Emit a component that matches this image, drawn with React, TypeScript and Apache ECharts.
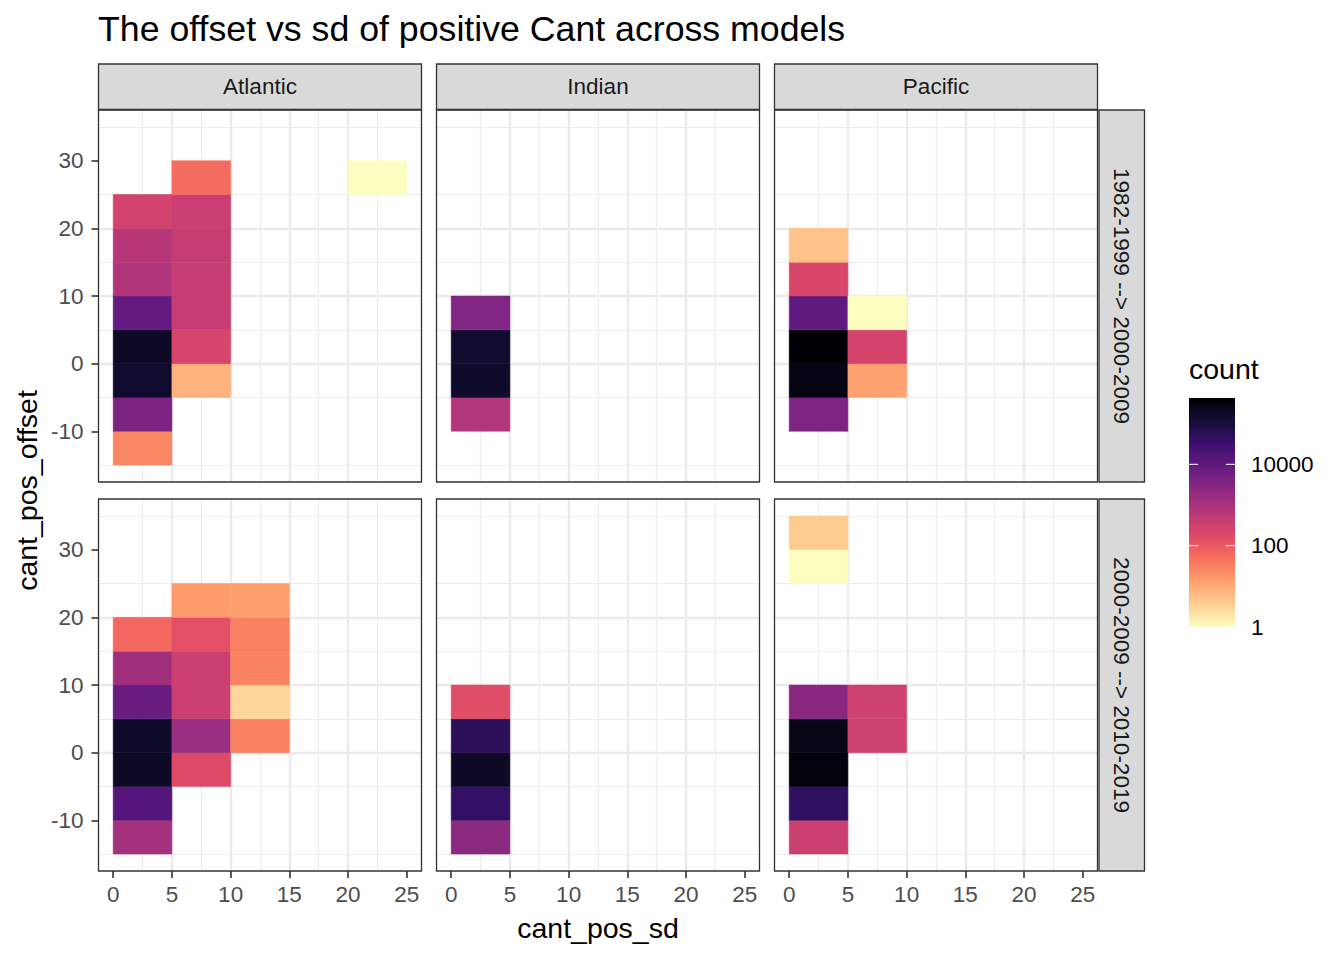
import React, { useEffect, useRef } from "react";
import * as echarts from "echarts";

// ---------- data ----------
const regions = ["Atlantic", "Indian", "Pacific"];
const periods = ["1982-1999 --> 2000-2009", "2000-2009 --> 2010-2019"];
const xTickValues = [0, 5, 10, 15, 20, 25];
const yTickValues = [-10, 0, 10, 20, 30];
const legendBreaks = [1, 100, 10000];
const binWidth = 5;
const xLimits = [-1.25, 26.25];
const yLimits = [-17.5, 37.5];

// [cant_pos_sd bin start, cant_pos_offset bin start, count]
const atlanticP1 = [
  [0, -15, 26], [0, -10, 4000], [0, -5, 140000], [0, 0, 185000], [0, 5, 8700],
  [0, 10, 800], [0, 15, 650], [0, 20, 265],
  [5, -5, 8], [5, 0, 230], [5, 5, 415], [5, 10, 415], [5, 15, 415], [5, 20, 365], [5, 25, 56],
  [20, 25, 1],
];
const indianP1 = [
  [0, -10, 750], [0, -5, 160000], [0, 0, 140000], [0, 5, 3500],
];
const pacificP1 = [
  [0, -10, 3700], [0, -5, 290000], [0, 0, 427000], [0, 5, 10000], [0, 10, 220], [0, 15, 5],
  [5, -5, 12], [5, 0, 250], [5, 5, 1],
];
const atlanticP2 = [
  [0, -15, 1170], [0, -10, 14700], [0, -5, 175000], [0, 0, 160000], [0, 5, 7600],
  [0, 10, 1330], [0, 15, 65],
  [5, -5, 178], [5, 0, 1600], [5, 5, 340], [5, 10, 340], [5, 15, 147], [5, 20, 15],
  [10, 0, 31], [10, 5, 3], [10, 10, 29], [10, 15, 31], [10, 20, 13],
];
const indianP2 = [
  [0, -15, 2400], [0, -10, 41000], [0, -5, 175000], [0, 0, 53000], [0, 5, 158],
];
const pacificP2 = [
  [0, -15, 340], [0, -10, 47000], [0, -5, 350000], [0, 0, 270000], [0, 5, 2550],
  [0, 25, 1], [0, 30, 4],
  [5, 0, 300], [5, 5, 300],
];

const panelData = [
  [atlanticP1, indianP1, pacificP1],
  [atlanticP2, indianP2, pacificP2],
];

// magma palette, dark -> light
const magma = [
  "#000004", "#140E36", "#3B0F70", "#641A80", "#8C2981", "#B73779",
  "#DE4968", "#F7705C", "#FE9F6D", "#FECF92", "#FCFDBF",
];
const magmaLowToHigh = magma.slice().reverse();

// ---------- layout ----------
const FONT = '"Liberation Sans", Arial, Helvetica, sans-serif';
const panelLeft = [98.5, 436.5, 774.5];
const panelW = 323;
const panelTop = [110, 499];
const panelH = 372;
const stripTopY = 64;
const stripTopH = 45.5;
const stripRightX = 1099;
const stripRightW = 45.5;
const legend = { x: 1189, y: 398, w: 46, h: 229 };

function buildOption() {
  const allCounts = panelData.flat().flatMap((p) => p.map((t) => t[2]));
  const maxCount = Math.max(...allCounts);
  const logMax = Math.log10(maxCount);

  const grids: any[] = [];
  const xAxes: any[] = [];
  const yAxes: any[] = [];
  const series: any[] = [];
  const graphics: any[] = [];

  const splitStyle = () => ({
    show: true,
    showMinLine: false,
    showMaxLine: false,
    lineStyle: { color: "#EBEBEB", width: 2.4 },
  });
  const minorStyle = () => ({ show: true, lineStyle: { color: "#EDEDED", width: 1.2 } });

  let idx = 0;
  for (let r = 0; r < 2; r++) {
    for (let c = 0; c < 3; c++) {
      grids.push({
        left: panelLeft[c],
        top: panelTop[r],
        width: panelW,
        height: panelH,
        show: false,
        containLabel: false,
        outerBoundsMode: "none",
      });
      const bottom = r === 1;
      const leftCol = c === 0;
      xAxes.push({
        type: "value",
        gridIndex: idx,
        position: "bottom",
        min: xLimits[0],
        max: xLimits[1],
        splitNumber: 5,
        minInterval: 5,
        maxInterval: 5,
        axisLine: { show: false, onZero: false },
        axisTick: {
          show: bottom,
          customValues: xTickValues,
          length: 7,
          lineStyle: { color: "#333333", width: 1.6 },
        },
        axisLabel: {
          show: bottom,
          customValues: xTickValues,
          color: "#4D4D4D",
          fontSize: 22.5,
          fontFamily: FONT,
          margin: 12,
        },
        minorTick: { show: false, splitNumber: 2 },
        splitLine: splitStyle(),
        minorSplitLine: minorStyle(),
      });
      yAxes.push({
        type: "value",
        gridIndex: idx,
        position: "left",
        min: yLimits[0],
        max: yLimits[1],
        splitNumber: 5,
        minInterval: 10,
        maxInterval: 10,
        axisLine: { show: false, onZero: false },
        axisTick: {
          show: leftCol,
          customValues: yTickValues,
          length: 7,
          lineStyle: { color: "#333333", width: 1.6 },
        },
        axisLabel: {
          show: leftCol,
          customValues: yTickValues,
          color: "#4D4D4D",
          fontSize: 22.5,
          fontFamily: FONT,
          margin: 15,
        },
        minorTick: { show: false, splitNumber: 2 },
        splitLine: splitStyle(),
        minorSplitLine: minorStyle(),
      });
      series.push({
        type: "custom",
        coordinateSystem: "cartesian2d",
        xAxisIndex: idx,
        yAxisIndex: idx,
        silent: true,
        encode: { x: 0, y: 1 },
        data: panelData[r][c].map((t) => [t[0], t[1], Math.log10(t[2]), t[2]]),
        renderItem: (params: any, api: any) => {
          const x0 = api.value(0);
          const y0 = api.value(1);
          const p0 = api.coord([x0, y0 + binWidth]);
          const p1 = api.coord([x0 + binWidth, y0]);
          const col = api.visual("color");
          return {
            type: "rect",
            shape: { x: p0[0], y: p0[1], width: p1[0] - p0[0], height: p1[1] - p0[1] },
            style: { fill: col, stroke: col, lineWidth: 0.5 },
          };
        },
      });

      // panel border
      graphics.push({
        type: "rect",
        z: 100,
        silent: true,
        shape: { x: panelLeft[c], y: panelTop[r], width: panelW, height: panelH },
        style: { fill: "none", stroke: "#333333", lineWidth: 1.3 },
      });
      idx++;
    }
  }

  // top strips
  for (let c = 0; c < 3; c++) {
    graphics.push({
      type: "rect",
      z: 100,
      silent: true,
      shape: { x: panelLeft[c], y: stripTopY, width: panelW, height: stripTopH },
      style: { fill: "#D9D9D9", stroke: "#333333", lineWidth: 1.3 },
    });
    graphics.push({
      type: "text",
      z: 101,
      silent: true,
      x: panelLeft[c] + panelW / 2,
      y: stripTopY + stripTopH / 2,
      style: {
        text: regions[c],
        fontSize: 22.5,
        fontFamily: FONT,
        fill: "#1A1A1A",
        align: "center",
        verticalAlign: "middle",
      },
    });
  }
  // right strips
  for (let r = 0; r < 2; r++) {
    graphics.push({
      type: "rect",
      z: 100,
      silent: true,
      shape: { x: stripRightX, y: panelTop[r], width: stripRightW, height: panelH },
      style: { fill: "#D9D9D9", stroke: "#333333", lineWidth: 1.3 },
    });
    graphics.push({
      type: "text",
      z: 101,
      silent: true,
      x: stripRightX + stripRightW / 2,
      y: panelTop[r] + panelH / 2,
      rotation: -Math.PI / 2,
      style: {
        text: periods[r],
        fontSize: 22.5,
        fontFamily: FONT,
        fill: "#1A1A1A",
        align: "center",
        verticalAlign: "middle",
      },
    });
  }

  // titles
  graphics.push({
    type: "text",
    silent: true,
    x: 98,
    y: 29,
    style: {
      text: "The offset vs sd of positive Cant across models",
      fontSize: 35.7,
      fontFamily: FONT,
      fill: "#000000",
      align: "left",
      verticalAlign: "middle",
    },
  });
  graphics.push({
    type: "text",
    silent: true,
    x: (panelLeft[0] + panelLeft[2] + panelW) / 2,
    y: 928,
    style: {
      text: "cant_pos_sd",
      fontSize: 28.5,
      fontFamily: FONT,
      fill: "#000000",
      align: "center",
      verticalAlign: "middle",
    },
  });
  graphics.push({
    type: "text",
    silent: true,
    x: 27,
    y: (panelTop[0] + panelTop[1] + panelH) / 2,
    rotation: Math.PI / 2,
    style: {
      text: "cant_pos_offset",
      fontSize: 28.5,
      fontFamily: FONT,
      fill: "#000000",
      align: "center",
      verticalAlign: "middle",
    },
  });

  // legend
  graphics.push({
    type: "text",
    silent: true,
    x: legend.x,
    y: 369,
    style: {
      text: "count",
      fontSize: 28.5,
      fontFamily: FONT,
      fill: "#000000",
      align: "left",
      verticalAlign: "middle",
    },
  });
  graphics.push({
    type: "rect",
    silent: true,
    shape: { x: legend.x, y: legend.y, width: legend.w, height: legend.h },
    style: {
      fill: new echarts.graphic.LinearGradient(
        0, 1, 0, 0,
        magmaLowToHigh.map((col, i) => ({ offset: i / (magmaLowToHigh.length - 1), color: col }))
      ),
    },
  });
  legendBreaks.forEach((b) => {
    const y = legend.y + legend.h - (Math.log10(b) / logMax) * legend.h;
    const tl = legend.w / 5;
    graphics.push({
      type: "line",
      silent: true,
      z: 10,
      shape: { x1: legend.x, y1: y, x2: legend.x + tl, y2: y },
      style: { stroke: "#FFFFFF", lineWidth: 1 },
    });
    graphics.push({
      type: "line",
      silent: true,
      z: 10,
      shape: { x1: legend.x + legend.w - tl, y1: y, x2: legend.x + legend.w, y2: y },
      style: { stroke: "#FFFFFF", lineWidth: 1 },
    });
    graphics.push({
      type: "text",
      silent: true,
      x: legend.x + legend.w + 16,
      y: y,
      style: {
        text: String(b),
        fontSize: 22.5,
        fontFamily: FONT,
        fill: "#000000",
        align: "left",
        verticalAlign: "middle",
      },
    });
  });

  return {
    animation: false,
    backgroundColor: "#FFFFFF",
    grid: grids,
    xAxis: xAxes,
    yAxis: yAxes,
    visualMap: {
      type: "continuous",
      show: false,
      min: 0,
      max: logMax,
      dimension: 2,
      seriesIndex: series.map((_, i) => i),
      inRange: { color: magmaLowToHigh },
    },
    series,
    graphic: graphics,
  };
}

export default function App() {
  const ref = useRef<HTMLDivElement>(null);
  useEffect(() => {
    if (!ref.current) return;
    const chart = echarts.init(ref.current, null, { renderer: "svg" });
    chart.setOption(buildOption() as any);
    return () => chart.dispose();
  }, []);
  return (
    <div
      ref={ref}
      style={{ position: "absolute", left: 0, top: 0, width: 1344, height: 960, background: "#fff" }}
    />
  );
}
